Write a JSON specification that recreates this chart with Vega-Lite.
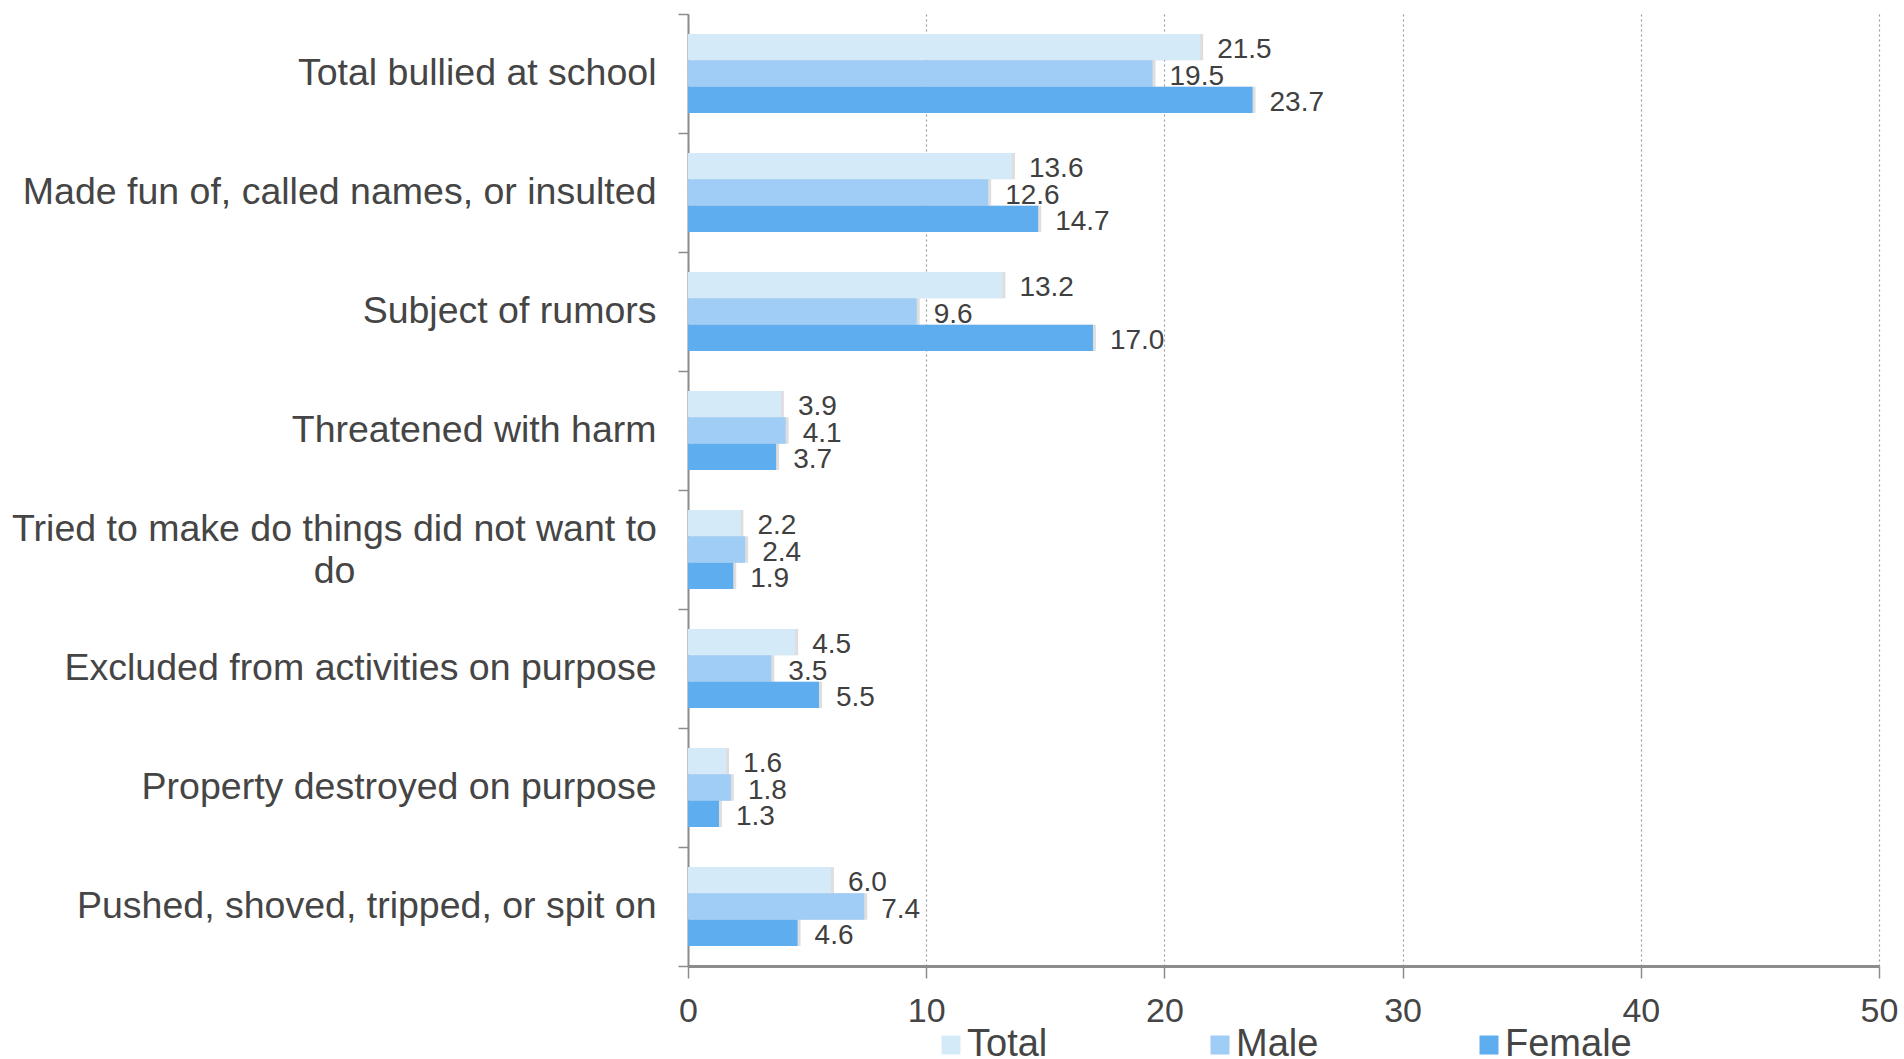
{
  "$schema": "https://vega.github.io/schema/vega-lite/v6.json",
  "width": 1191,
  "height": 952,
  "autosize": {"type": "none"},
  "padding": {"left": 688, "top": 14, "right": 25, "bottom": 93},
  "background": "white",
  "config": {"font": "Liberation Sans", "view": {"stroke": null}},
  "data": {
    "values": [
      {"category": "Total bullied at school", "group": "Total", "value": 21.5},
      {"category": "Total bullied at school", "group": "Male", "value": 19.5},
      {"category": "Total bullied at school", "group": "Female", "value": 23.7},
      {"category": "Made fun of, called names, or insulted", "group": "Total", "value": 13.6},
      {"category": "Made fun of, called names, or insulted", "group": "Male", "value": 12.6},
      {"category": "Made fun of, called names, or insulted", "group": "Female", "value": 14.7},
      {"category": "Subject of rumors", "group": "Total", "value": 13.2},
      {"category": "Subject of rumors", "group": "Male", "value": 9.6},
      {"category": "Subject of rumors", "group": "Female", "value": 17.0},
      {"category": "Threatened with harm", "group": "Total", "value": 3.9},
      {"category": "Threatened with harm", "group": "Male", "value": 4.1},
      {"category": "Threatened with harm", "group": "Female", "value": 3.7},
      {"category": "Tried to make do things did not want to do", "group": "Total", "value": 2.2},
      {"category": "Tried to make do things did not want to do", "group": "Male", "value": 2.4},
      {"category": "Tried to make do things did not want to do", "group": "Female", "value": 1.9},
      {"category": "Excluded from activities on purpose", "group": "Total", "value": 4.5},
      {"category": "Excluded from activities on purpose", "group": "Male", "value": 3.5},
      {"category": "Excluded from activities on purpose", "group": "Female", "value": 5.5},
      {"category": "Property destroyed on purpose", "group": "Total", "value": 1.6},
      {"category": "Property destroyed on purpose", "group": "Male", "value": 1.8},
      {"category": "Property destroyed on purpose", "group": "Female", "value": 1.3},
      {"category": "Pushed, shoved, tripped, or spit on", "group": "Total", "value": 6.0},
      {"category": "Pushed, shoved, tripped, or spit on", "group": "Male", "value": 7.4},
      {"category": "Pushed, shoved, tripped, or spit on", "group": "Female", "value": 4.6}
    ]
  },
  "encoding": {
    "y": {
      "field": "category",
      "type": "nominal",
      "sort": null,
      "scale": {"paddingInner": 0, "paddingOuter": 0},
      "axis": {
        "title": null,
        "tickBand": "extent",
        "domainColor": "#8c8c8c",
        "domainWidth": 2,
        "tickColor": "#8c8c8c",
        "tickSize": 10,
        "tickWidth": 1.5,
        "labelFontSize": 37.5,
        "labelColor": "#454545",
        "labelLimit": 700,
        "labelLineHeight": 42,
        "labelExpr": "datum.value === 'Tried to make do things did not want to do' ? ['Tried to make do things did not want to', 'do'] : datum.label",
        "labelAlign": {"condition": {"test": "datum.value === 'Tried to make do things did not want to do'", "value": "center"}, "value": "right"},
        "labelPadding": {"condition": {"test": "datum.value === 'Tried to make do things did not want to do'", "value": 344}, "value": 22},
        "labelOffset": {"condition": {"test": "datum.value === 'Tried to make do things did not want to do'", "value": -20}, "value": 0}
      }
    },
    "yOffset": {
      "field": "group",
      "type": "nominal",
      "sort": ["Total", "Male", "Female"],
      "scale": {"paddingInner": 0, "paddingOuter": 0.76}
    },
    "x": {
      "field": "value",
      "type": "quantitative",
      "scale": {"domain": [0, 50], "nice": false},
      "axis": {
        "title": null,
        "values": [0, 10, 20, 30, 40, 50],
        "grid": true,
        "gridDash": [2, 3],
        "gridColor": "#9a9a9a",
        "gridWidth": 1.2,
        "domainColor": "#8c8c8c",
        "domainWidth": 3,
        "tickColor": "#8c8c8c",
        "tickSize": 12,
        "tickWidth": 1.5,
        "labelFontSize": 34,
        "labelColor": "#454545",
        "labelPadding": 16,
        "labelFlush": false
      }
    }
  },
  "layer": [
    {
      "mark": {"type": "bar", "color": "#000000", "opacity": 0.13, "xOffset": 3, "yOffset": 4},
      "encoding": {}
    },
    {
      "mark": {"type": "bar"},
      "encoding": {
        "color": {
          "field": "group",
          "type": "nominal",
          "sort": ["Total", "Male", "Female"],
          "scale": {"domain": ["Total", "Male", "Female"], "range": ["#D4EAF9", "#9FCDF5", "#5EADEF"]},
          "legend": {
            "title": null,
            "orient": "none",
            "legendX": 244,
            "legendY": 1012,
            "direction": "horizontal",
            "columns": 3,
            "gridAlign": "all",
            "columnPadding": 107,
            "symbolType": "square",
            "symbolSize": 361,
            "symbolStrokeWidth": 0,
            "symbolOpacity": 1,
            "labelFontSize": 38,
            "labelColor": "#454545",
            "labelOffset": -3
          }
        }
      }
    },
    {
      "mark": {"type": "text", "align": "left", "baseline": "middle", "dx": 17, "dy": 3, "fontSize": 28, "color": "#404040"},
      "encoding": {"text": {"field": "value", "type": "quantitative", "format": ".1f"}}
    }
  ]
}
